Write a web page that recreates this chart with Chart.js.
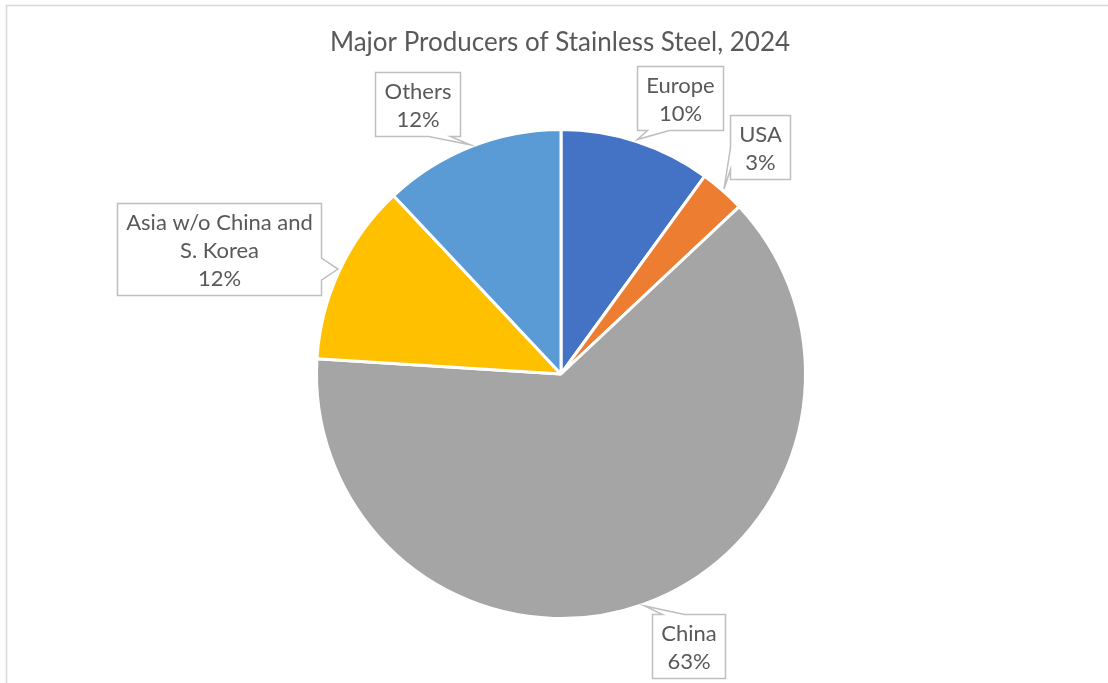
<!DOCTYPE html>
<html>
<head>
<meta charset="utf-8">
<script src="https://cdn.jsdelivr.net/npm/chart.js@4.4.1/dist/chart.umd.min.js"></script>
<style>
  html, body { margin: 0; padding: 0; background: #fff; }
  #wrap { width: 1108px; height: 683px; position: relative; }
</style>
</head>
<body>
<div id="wrap"><canvas id="chart" width="1108" height="683"></canvas></div>
<script>
const chartTitle = 'Major Producers of Stainless Steel, 2024';
const regions = ['Europe', 'USA', 'China', 'Asia w/o China and S. Korea', 'Others'];
const labelLines = [['Europe'], ['USA'], ['China'], ['Asia w/o China and', 'S. Korea'], ['Others']];
const shares = [10, 3, 63, 12, 12];
const colors = ['#4472C4', '#ED7D31', '#A5A5A5', '#FFC000', '#5B9BD5'];

// where each callout box sits relative to its pointer tip, and which edge carries the pointer
const calloutOffsets = [[43, -42], [36, -42], [44, 40], [-119, -20], [-53, -41]];
const calloutSides = ['bottom', 'left', 'top', 'right', 'bottom'];

const FONT = 'Lato, "Open Sans", sans-serif';
const TEXT_COLOR = '#595959';

const clamp = (v, lo, hi) => Math.min(Math.max(v, lo), hi);

function bubble(ctx, x0, y0, x1, y1, side, tx, ty) {
  const half = 11, m = 10;
  ctx.beginPath();
  ctx.moveTo(x0, y0);
  if (side === 'top') {
    const c = clamp(tx, x0 + m + half, x1 - m - half);
    ctx.lineTo(c - half, y0); ctx.lineTo(tx, ty); ctx.lineTo(c + half, y0);
  }
  ctx.lineTo(x1, y0);
  if (side === 'right') {
    const c = clamp(ty, y0 + m + half, y1 - m - half);
    ctx.lineTo(x1, c - half); ctx.lineTo(tx, ty); ctx.lineTo(x1, c + half);
  }
  ctx.lineTo(x1, y1);
  if (side === 'bottom') {
    const c = clamp(tx, x0 + m + half, x1 - m - half);
    ctx.lineTo(c + half, y1); ctx.lineTo(tx, ty); ctx.lineTo(c - half, y1);
  }
  ctx.lineTo(x0, y1);
  if (side === 'left') {
    const c = clamp(ty, y0 + m + half, y1 - m - half);
    ctx.lineTo(x0, c + half); ctx.lineTo(tx, ty); ctx.lineTo(x0, c - half);
  }
  ctx.closePath();
  ctx.fillStyle = '#fff';
  ctx.fill();
  ctx.strokeStyle = '#BFBFBF';
  ctx.lineWidth = 1.5;
  ctx.stroke();
}

const frameAndTitle = {
  id: 'frameAndTitle',
  beforeDraw(chart) {
    const ctx = chart.ctx;
    ctx.save();
    ctx.fillStyle = '#fff';
    ctx.fillRect(0, 0, chart.width, chart.height);
    ctx.strokeStyle = '#D9D9D9';
    ctx.lineWidth = 1.5;
    ctx.strokeRect(6.5, 5.5, chart.width + 20, chart.height + 20);
    ctx.fillStyle = TEXT_COLOR;
    ctx.font = '26px ' + FONT;
    ctx.textAlign = 'center';
    ctx.textBaseline = 'middle';
    ctx.fillText(chartTitle, 560, 43);
    ctx.restore();
  }
};

const callouts = {
  id: 'callouts',
  afterDatasetsDraw(chart) {
    const ctx = chart.ctx;
    const arcs = chart.getDatasetMeta(0).data;
    const padX = 9, padY = 4, lineH = 28;
    ctx.save();
    ctx.font = '22px ' + FONT;
    arcs.forEach((arc, i) => {
      const mid = (arc.startAngle + arc.endAngle) / 2;
      const r = arc.outerRadius + 2;
      const tx = arc.x + Math.cos(mid) * r;
      const ty = arc.y + Math.sin(mid) * r;
      const lines = labelLines[i].concat([shares[i] + '%']);
      const w = Math.max(...lines.map(l => ctx.measureText(l).width)) + 2 * padX;
      const h = lines.length * lineH + 2 * padY;
      const cx = tx + calloutOffsets[i][0];
      const cy = ty + calloutOffsets[i][1];
      const x0 = Math.round(cx - w / 2) + 0.5, y0 = Math.round(cy - h / 2) + 0.5;
      const x1 = Math.round(cx + w / 2) + 0.5, y1 = Math.round(cy + h / 2) + 0.5;
      bubble(ctx, x0, y0, x1, y1, calloutSides[i], tx, ty);
      ctx.fillStyle = TEXT_COLOR;
      ctx.textAlign = 'center';
      ctx.textBaseline = 'middle';
      lines.forEach((l, k) => {
        ctx.fillText(l, (x0 + x1) / 2, y0 + padY + lineH / 2 + k * lineH + 1);
      });
    });
    ctx.restore();
  }
};

new Chart(document.getElementById('chart'), {
  type: 'pie',
  data: {
    labels: regions,
    datasets: [{
      data: shares,
      backgroundColor: colors,
      borderColor: '#fff',
      borderWidth: 3
    }]
  },
  options: {
    responsive: false,
    animation: false,
    layout: { padding: { left: 315, right: 301, top: 128, bottom: 63 } },
    plugins: {
      legend: { display: false },
      tooltip: { enabled: false },
      title: { display: false }
    }
  },
  plugins: [frameAndTitle, callouts]
});
</script>
</body>
</html>
